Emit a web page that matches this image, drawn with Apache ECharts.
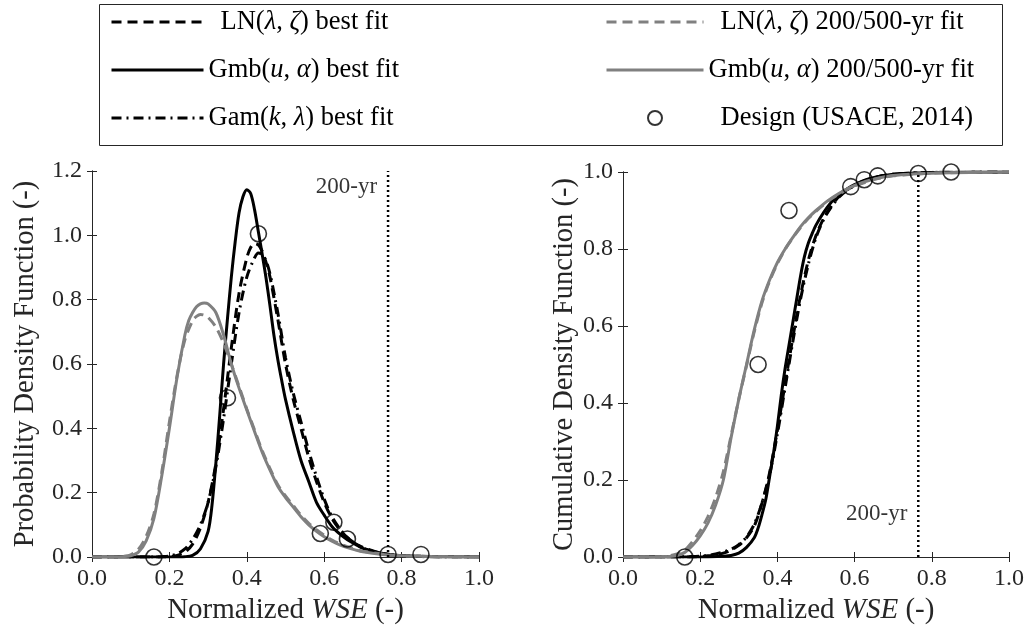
<!DOCTYPE html>
<html>
<head>
<meta charset="utf-8">
<script src="https://cdn.jsdelivr.net/npm/echarts@6.0.0/dist/echarts.min.js"></script>
<style>
  html, body { margin: 0; padding: 0; background: #fff; }
  #chart { width: 1028px; height: 634px; }
</style>
</head>
<body>
<div id="chart"></div>
<script>
// ---- PDF panel (left) ----
var lnBestX   = [0, 0.18, 0.20, 0.22, 0.24, 0.26, 0.28, 0.30, 0.32, 0.34, 0.36, 0.38, 0.40, 0.41, 0.42, 0.43, 0.44, 0.45, 0.46, 0.48, 0.50, 0.52, 0.54, 0.56, 0.58, 0.60, 0.62, 0.64, 0.66, 0.68, 0.70, 0.74, 0.78, 0.85, 1.0];
var lnBestPdf = [0, 0, 0.001, 0.005, 0.015, 0.04, 0.09, 0.17, 0.29, 0.46, 0.65, 0.82, 0.93, 0.962, 0.975, 0.97, 0.95, 0.915, 0.87, 0.74, 0.60, 0.49, 0.40, 0.31, 0.235, 0.17, 0.12, 0.085, 0.06, 0.042, 0.03, 0.014, 0.006, 0.002, 0];

var gmbBestX   = [0, 0.20, 0.24, 0.26, 0.28, 0.30, 0.31, 0.32, 0.33, 0.34, 0.35, 0.36, 0.37, 0.38, 0.39, 0.40, 0.41, 0.42, 0.43, 0.44, 0.45, 0.46, 0.47, 0.48, 0.49, 0.50, 0.52, 0.54, 0.56, 0.58, 0.60, 0.62, 0.64, 0.66, 0.68, 0.70, 0.72, 0.76, 0.80, 0.90, 1.0];
var gmbBestPdf = [0, 0, 0.001, 0.005, 0.025, 0.08, 0.16, 0.29, 0.44, 0.60, 0.74, 0.87, 0.98, 1.07, 1.12, 1.142, 1.13, 1.08, 1.01, 0.94, 0.865, 0.78, 0.69, 0.615, 0.55, 0.49, 0.39, 0.30, 0.235, 0.17, 0.13, 0.095, 0.072, 0.054, 0.04, 0.027, 0.019, 0.009, 0.004, 0.001, 0];

var gamBestX   = [0, 0.16, 0.18, 0.20, 0.22, 0.24, 0.26, 0.28, 0.30, 0.32, 0.34, 0.36, 0.38, 0.40, 0.42, 0.43, 0.44, 0.45, 0.46, 0.48, 0.50, 0.52, 0.54, 0.56, 0.58, 0.60, 0.62, 0.64, 0.66, 0.68, 0.70, 0.74, 0.78, 0.85, 1.0];
var gamBestPdf = [0, 0, 0.001, 0.003, 0.01, 0.025, 0.055, 0.10, 0.17, 0.28, 0.43, 0.60, 0.76, 0.87, 0.93, 0.945, 0.94, 0.92, 0.88, 0.76, 0.62, 0.51, 0.42, 0.33, 0.25, 0.18, 0.125, 0.088, 0.06, 0.042, 0.028, 0.013, 0.005, 0.001, 0];

var lnFitX   = [0, 0.06, 0.08, 0.10, 0.12, 0.14, 0.16, 0.18, 0.20, 0.22, 0.24, 0.26, 0.27, 0.28, 0.29, 0.30, 0.32, 0.34, 0.36, 0.38, 0.40, 0.42, 0.44, 0.46, 0.48, 0.50, 0.52, 0.54, 0.56, 0.58, 0.60, 0.62, 0.64, 0.66, 0.68, 0.70, 0.75, 0.80, 0.90, 1.0];
var lnFitPdf = [0, 0, 0.002, 0.007, 0.024, 0.064, 0.134, 0.262, 0.42, 0.565, 0.675, 0.735, 0.748, 0.754, 0.752, 0.745, 0.715, 0.665, 0.60, 0.53, 0.46, 0.395, 0.33, 0.275, 0.225, 0.19, 0.16, 0.13, 0.105, 0.085, 0.068, 0.053, 0.041, 0.032, 0.024, 0.018, 0.009, 0.004, 0.001, 0];

var gmbFitX   = [0, 0.06, 0.08, 0.10, 0.12, 0.14, 0.16, 0.18, 0.20, 0.22, 0.24, 0.25, 0.26, 0.27, 0.28, 0.29, 0.30, 0.32, 0.34, 0.36, 0.38, 0.40, 0.42, 0.44, 0.46, 0.48, 0.50, 0.52, 0.54, 0.56, 0.58, 0.60, 0.62, 0.64, 0.66, 0.68, 0.70, 0.75, 0.80, 0.90, 1.0];
var gmbFitPdf = [0, 0, 0.001, 0.004, 0.015, 0.05, 0.12, 0.25, 0.40, 0.56, 0.69, 0.735, 0.76, 0.778, 0.787, 0.79, 0.787, 0.76, 0.69, 0.60, 0.525, 0.457, 0.39, 0.325, 0.27, 0.22, 0.185, 0.155, 0.125, 0.10, 0.08, 0.063, 0.049, 0.038, 0.029, 0.022, 0.016, 0.008, 0.004, 0.001, 0];

// ---- CDF panel (right) ----
var bestCdfX   = [0, 0.18, 0.20, 0.22, 0.24, 0.26, 0.28, 0.30, 0.32, 0.34, 0.36, 0.38, 0.40, 0.42, 0.44, 0.46, 0.48, 0.50, 0.52, 0.54, 0.56, 0.58, 0.60, 0.62, 0.64, 0.66, 0.70, 0.75, 0.80, 1.0];
var lnBestCdf  = [0, 0, 0.001, 0.003, 0.006, 0.01, 0.018, 0.03, 0.05, 0.08, 0.14, 0.22, 0.33, 0.45, 0.57, 0.68, 0.77, 0.835, 0.88, 0.912, 0.937, 0.953, 0.966, 0.975, 0.982, 0.988, 0.994, 0.997, 0.999, 1.0];
var gamBestCdf = [0, 0.001, 0.002, 0.004, 0.008, 0.013, 0.02, 0.032, 0.052, 0.085, 0.14, 0.215, 0.32, 0.44, 0.56, 0.67, 0.76, 0.83, 0.877, 0.91, 0.935, 0.952, 0.965, 0.975, 0.982, 0.988, 0.994, 0.997, 0.999, 1.0];

var gmbBestCdfX = [0, 0.22, 0.26, 0.28, 0.30, 0.32, 0.34, 0.35, 0.36, 0.37, 0.38, 0.39, 0.40, 0.41, 0.42, 0.43, 0.44, 0.45, 0.46, 0.47, 0.48, 0.49, 0.50, 0.52, 0.54, 0.56, 0.58, 0.60, 0.62, 0.64, 0.66, 0.70, 0.75, 0.80, 1.0];
var gmbBestCdf  = [0, 0, 0.002, 0.004, 0.01, 0.025, 0.05, 0.075, 0.11, 0.15, 0.21, 0.27, 0.34, 0.42, 0.49, 0.55, 0.61, 0.67, 0.73, 0.78, 0.815, 0.84, 0.862, 0.895, 0.922, 0.942, 0.956, 0.967, 0.976, 0.983, 0.988, 0.994, 0.997, 0.999, 1.0];

var fitCdfX   = [0, 0.10, 0.12, 0.14, 0.16, 0.18, 0.20, 0.22, 0.24, 0.26, 0.28, 0.30, 0.32, 0.34, 0.36, 0.38, 0.40, 0.42, 0.44, 0.46, 0.48, 0.50, 0.53, 0.56, 0.59, 0.63, 0.66, 0.70, 0.75, 0.80, 0.90, 1.0];
var lnFitCdf  = [0, 0.001, 0.003, 0.008, 0.018, 0.04, 0.068, 0.105, 0.155, 0.222, 0.315, 0.41, 0.497, 0.585, 0.66, 0.717, 0.762, 0.799, 0.829, 0.856, 0.879, 0.898, 0.923, 0.943, 0.959, 0.974, 0.983, 0.99, 0.994, 0.997, 0.999, 1.0];
var gmbFitCdf = [0, 0, 0.001, 0.004, 0.012, 0.03, 0.055, 0.088, 0.135, 0.20, 0.31, 0.41, 0.50, 0.59, 0.665, 0.72, 0.765, 0.80, 0.83, 0.858, 0.881, 0.90, 0.925, 0.945, 0.961, 0.976, 0.984, 0.991, 0.995, 0.997, 0.999, 1.0];

// design points (USACE, 2014)
var designX   = [0.16, 0.35, 0.43, 0.59, 0.625, 0.66, 0.765, 0.85];
var designPdf = [0.0, 0.495, 1.005, 0.073, 0.108, 0.056, 0.008, 0.008];
var designCdf = [0.0, 0.50, 0.90, 0.962, 0.98, 0.99, 0.996, 1.0];

var returnPeriodX = 0.765;

var FONT = 'Liberation Serif';
var AXC = '#262626';
var GRAY = '#808080';

function zip(xs, ys) {
	var out = [];
	for (var i = 0; i < xs.length; i++) out.push([xs[i], ys[i]]);
	return out;
}

function curve(name, xs, ys, panel, color, dash, z) {
	return {
		name: name, type: 'line', xAxisIndex: panel * 2, yAxisIndex: panel * 2,
		data: zip(xs, ys), symbol: 'none', smooth: 0.3, z: z,
		lineStyle: { color: color, width: 3, type: dash },
		itemStyle: { color: color }
	};
}

var DASH = [10, 6];
var DASHDOT = [10, 5, 2, 5];

function xAxes(grid, pos) {
	return {
		type: 'value', gridIndex: grid, position: pos, min: 0, max: 1, interval: 0.2,
		axisLine: { show: true, lineStyle: { color: AXC, width: 1 } },
		axisTick: { show: true, inside: true, length: 5, lineStyle: { color: AXC } },
		axisLabel: { show: pos === 'bottom', margin: 10, fontFamily: FONT, fontSize: 24, color: AXC,
			formatter: function (v) { return v.toFixed(1); } },
		splitLine: { show: false },
		name: pos === 'bottom' ? 'Normalized {i|WSE} (-)' : '',
		nameLocation: 'middle', nameGap: 39,
		nameTextStyle: { fontFamily: FONT, fontSize: 29, color: AXC,
			rich: { i: { fontFamily: FONT, fontSize: 29, fontStyle: 'italic', color: AXC } } }
	};
}

function yAxes(grid, pos, max, name, gap) {
	return {
		type: 'value', gridIndex: grid, position: pos, min: 0, max: max, interval: 0.2,
		axisLine: { show: true, lineStyle: { color: AXC, width: 1 } },
		axisTick: { show: true, inside: true, length: 5, lineStyle: { color: AXC } },
		axisLabel: { show: pos === 'left', margin: 10, fontFamily: FONT, fontSize: 24, color: AXC,
			formatter: function (v) { return v.toFixed(1); } },
		splitLine: { show: false },
		name: pos === 'left' ? name : '',
		nameLocation: 'middle', nameRotate: 90, nameGap: gap,
		nameTextStyle: { fontFamily: FONT, fontSize: 28.5, color: AXC }
	};
}

var legendNames = {
	'LN best':  '{g|}LN({i|λ}, {i|ζ}) best fit',
	'Gmb best': 'Gmb({i|u}, {i|α}) best fit',
	'Gam best': 'Gam({i|k}, {i|λ}) best fit',
	'LN fit':   '{g|}LN({i|λ}, {i|ζ}) 200/500-yr fit',
	'Gmb fit':  'Gmb({i|u}, {i|α}) 200/500-yr fit',
	'Design':   '{g|}Design (USACE, 2014)'
};

// line entries: hide the symbol the legend puts in the middle of a line icon
function lineEntry(name) {
	return { name: name, itemStyle: { color: 'rgba(0,0,0,0)', borderWidth: 0 }, lineStyle: { width: 3 } };
}

function legendBox(left, width, items) {
	return {
		orient: 'vertical', left: left, top: 7, padding: 0,
		itemWidth: width, itemHeight: 14, itemGap: 18,
		selectedMode: false,
		data: items,
		formatter: function (n) { return legendNames[n]; },
		textStyle: {
			fontFamily: FONT, fontSize: 26.5, color: '#000', lineHeight: 30,
			rich: {
				i: { fontFamily: FONT, fontSize: 26.5, fontStyle: 'italic', color: '#000' },
				g: { width: 12 }
			}
		}
	};
}

function marker(panel, ys) {
	return {
		name: 'Design', type: 'scatter', xAxisIndex: panel * 2, yAxisIndex: panel * 2,
		data: zip(designX, ys), symbol: 'circle', symbolSize: 16, z: 10,
		itemStyle: { color: 'rgba(0,0,0,0)', borderColor: '#000', borderWidth: 1.6 }
	};
}

function dotted(panel, top) {
	return {
		name: '200-yr', type: 'line', xAxisIndex: panel * 2, yAxisIndex: panel * 2,
		data: [[returnPeriodX, 0], [returnPeriodX, top]], symbol: 'none', z: 9,
		lineStyle: { color: '#000', width: 2.5, type: [2, 3] }
	};
}

function tag(panel, y) {
	return {
		name: 'tag', type: 'scatter', xAxisIndex: panel * 2, yAxisIndex: panel * 2,
		data: [[returnPeriodX, y]], symbolSize: 0, silent: true, z: 11,
		label: { show: true, position: 'left', distance: 11, formatter: '200-yr',
			fontFamily: FONT, fontSize: 23, color: '#000' }
	};
}

var chart = echarts.init(document.getElementById('chart'));
chart.setOption({
	animation: false,
	backgroundColor: '#fff',
	grid: [
		{ left: 92, top: 171, width: 387, height: 386 },
		{ left: 623, top: 172, width: 386, height: 385 }
	],
	xAxis: [xAxes(0, 'bottom'), xAxes(0, 'top'), xAxes(1, 'bottom'), xAxes(1, 'top')],
	yAxis: [
		yAxes(0, 'left', 1.2, 'Probability Density Function (-)', 52),
		yAxes(0, 'right', 1.2, '', 0),
		yAxes(1, 'left', 1.0, 'Cumulative Density Function (-)', 23),
		yAxes(1, 'right', 1.0, '', 0)
	],
	legend: [
		legendBox(110, 92, [lineEntry('LN best'), lineEntry('Gmb best'), lineEntry('Gam best')]),
		legendBox(605, 97, [lineEntry('LN fit'), lineEntry('Gmb fit'), 'Design'])
	],
	graphic: [{
		type: 'rect', left: 97, top: 2, silent: true,
		shape: { width: 903, height: 141 },
		style: { fill: 'none', stroke: AXC, lineWidth: 1 }
	}],
	series: [
		curve('LN best', lnBestX, lnBestPdf, 0, '#000', DASH, 3),
		curve('Gmb best', gmbBestX, gmbBestPdf, 0, '#000', 'solid', 3),
		curve('Gam best', gamBestX, gamBestPdf, 0, '#000', DASHDOT, 3),
		curve('LN fit', lnFitX, lnFitPdf, 0, GRAY, DASH, 4),
		curve('Gmb fit', gmbFitX, gmbFitPdf, 0, GRAY, 'solid', 4),
		marker(0, designPdf),
		dotted(0, 1.2),
		tag(0, 1.15),

		curve('LN best', bestCdfX, lnBestCdf, 1, '#000', DASH, 3),
		curve('Gmb best', gmbBestCdfX, gmbBestCdf, 1, '#000', 'solid', 3),
		curve('Gam best', bestCdfX, gamBestCdf, 1, '#000', DASHDOT, 3),
		curve('LN fit', fitCdfX, lnFitCdf, 1, GRAY, DASH, 4),
		curve('Gmb fit', fitCdfX, gmbFitCdf, 1, GRAY, 'solid', 4),
		marker(1, designCdf),
		dotted(1, 1.0),
		tag(1, 0.113)
	]
});
</script>
</body>
</html>
